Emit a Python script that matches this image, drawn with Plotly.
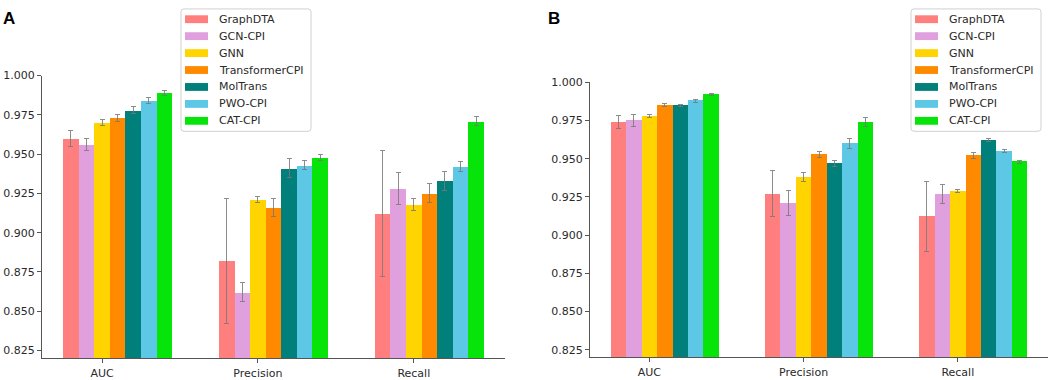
import plotly.graph_objects as go

models = ["GraphDTA", "GCN-CPI", "GNN", "TransformerCPI", "MolTrans", "PWO-CPI", "CAT-CPI"]
metrics = ["AUC", "Precision", "Recall"]
colors = ["#ff7f7f", "#dfa0dd", "#ffd400", "#ff8a00", "#007f7b", "#5cc8e6", "#06e40a"]

# Panel A values per model: [AUC, Precision, Recall]
a_vals = {
    "GraphDTA":       [0.960, 0.882, 0.912],
    "GCN-CPI":        [0.956, 0.862, 0.928],
    "GNN":            [0.970, 0.921, 0.918],
    "TransformerCPI": [0.973, 0.916, 0.925],
    "MolTrans":       [0.978, 0.941, 0.933],
    "PWO-CPI":        [0.984, 0.943, 0.942],
    "CAT-CPI":        [0.989, 0.948, 0.971],
}
a_err = {
    "GraphDTA":       [0.005, 0.040, 0.040],
    "GCN-CPI":        [0.004, 0.006, 0.010],
    "GNN":            [0.002, 0.002, 0.004],
    "TransformerCPI": [0.002, 0.006, 0.006],
    "MolTrans":       [0.002, 0.006, 0.006],
    "PWO-CPI":        [0.002, 0.003, 0.003],
    "CAT-CPI":        [0.0015, 0.002, 0.003],
}
# Panel B values per model: [AUC, Precision, Recall]
b_vals = {
    "GraphDTA":       [0.974, 0.927, 0.912],
    "GCN-CPI":        [0.975, 0.921, 0.927],
    "GNN":            [0.978, 0.938, 0.929],
    "TransformerCPI": [0.985, 0.953, 0.952],
    "MolTrans":       [0.985, 0.947, 0.962],
    "PWO-CPI":        [0.988, 0.960, 0.955],
    "CAT-CPI":        [0.992, 0.974, 0.948],
}
b_err = {
    "GraphDTA":       [0.004, 0.015, 0.023],
    "GCN-CPI":        [0.004, 0.008, 0.006],
    "GNN":            [0.001, 0.003, 0.001],
    "TransformerCPI": [0.001, 0.002, 0.002],
    "MolTrans":       [0.0005, 0.002, 0.001],
    "PWO-CPI":        [0.001, 0.003, 0.001],
    "CAT-CPI":        [0.0005, 0.003, 0.001],
}

bar_w = 0.1
W, H = 1052, 380
FONT = "DejaVu Sans, Verdana, sans-serif"
TXT = "#2a2a2a"

fig = go.Figure()

panels = [
    ("x", "y", a_vals, a_err),
    ("x2", "y2", b_vals, b_err),
]
for xa, ya, vals, errs in panels:
    for k, m in enumerate(models):
        xs = [i + (k - 2) * bar_w for i in range(len(metrics))]
        fig.add_trace(go.Bar(
            x=xs, y=vals[m], width=bar_w, marker=dict(color=colors[k], line=dict(width=0)),
            error_y=dict(type="data", array=errs[m], color="rgba(120,120,120,0.85)",
                         thickness=1, width=2.5),
            xaxis=xa, yaxis=ya, showlegend=False, name=m,
        ))


def px_x(p):
    return p / W


def px_y(p):
    return 1 - p / H


# Manual matplotlib-style legends (box, wide patches, labels)
shapes = []
annotations = []
row_h = 17.3
for box_left in (181, 911):
    box_right = box_left + 130
    top, bottom, r = 3, 128, 3
    path = (f"M{px_x(box_left + r)},{px_y(top)} L{px_x(box_right - r)},{px_y(top)} "
            f"Q{px_x(box_right)},{px_y(top)} {px_x(box_right)},{px_y(top + r)} "
            f"L{px_x(box_right)},{px_y(bottom - r)} "
            f"Q{px_x(box_right)},{px_y(bottom)} {px_x(box_right - r)},{px_y(bottom)} "
            f"L{px_x(box_left + r)},{px_y(bottom)} "
            f"Q{px_x(box_left)},{px_y(bottom)} {px_x(box_left)},{px_y(bottom - r)} "
            f"L{px_x(box_left)},{px_y(top + r)} "
            f"Q{px_x(box_left)},{px_y(top)} {px_x(box_left + r)},{px_y(top)} Z")
    shapes.append(dict(type="path", path=path, xref="paper", yref="paper",
                       line=dict(color="#d0d0d0", width=1), fillcolor="rgba(255,255,255,0.85)",
                       layer="above"))
    for k, m in enumerate(models):
        cy = 13.5 + k * row_h
        shapes.append(dict(type="rect", xref="paper", yref="paper",
                           x0=px_x(box_left + 4), x1=px_x(box_left + 27),
                           y0=px_y(cy + 4), y1=px_y(cy - 4),
                           fillcolor=colors[k], line=dict(width=0), layer="above"))
        annotations.append(dict(text=m, x=px_x(box_left + 36), y=px_y(cy), xref="paper",
                                yref="paper", xanchor="left", yanchor="middle", showarrow=False,
                                font=dict(family=FONT, size=11, color=TXT)))

annotations += [
    dict(text="<b>A</b>", x=px_x(1), y=px_y(1), xref="paper", yref="paper",
         xanchor="left", yanchor="top", showarrow=False,
         font=dict(family="Liberation Sans, Arial, sans-serif", size=17, color="black")),
    dict(text="<b>B</b>", x=px_x(546), y=px_y(1), xref="paper", yref="paper",
         xanchor="left", yanchor="top", showarrow=False,
         font=dict(family="Liberation Sans, Arial, sans-serif", size=17, color="black")),
]

axis_common = dict(
    showline=True, linecolor="#555555", linewidth=1, ticks="outside", ticklen=4,
    tickcolor="#555555", showgrid=False, zeroline=False,
    tickfont=dict(family=FONT, size=11, color=TXT),
)
xr = [-0.385, 2.585]
yr = [0.82, 1.0]
yt = [0.825, 0.850, 0.875, 0.900, 0.925, 0.950, 0.975, 1.000]

fig.update_layout(
    width=W, height=H, margin=dict(l=0, r=0, t=0, b=0),
    paper_bgcolor="white", plot_bgcolor="white",
    barmode="overlay", bargap=0, showlegend=False,
    font=dict(family=FONT, size=11, color=TXT),
    xaxis=dict(domain=[px_x(42), px_x(505)], range=xr, tickvals=[0, 1, 2], ticktext=metrics,
               anchor="y", **axis_common),
    yaxis=dict(domain=[px_y(360), px_y(71)], range=yr, tickvals=yt,
               tickformat=".3f", anchor="x", **axis_common),
    xaxis2=dict(domain=[px_x(590), px_x(1048)], range=xr, tickvals=[0, 1, 2], ticktext=metrics,
                anchor="y2", **axis_common),
    yaxis2=dict(domain=[px_y(359), px_y(78)], range=yr, tickvals=yt,
                tickformat=".3f", anchor="x2", **axis_common),
    shapes=shapes,
    annotations=annotations,
)

fig.write_html("out.html", config={"displayModeBar": False},
               post_script="document.body.style.margin='0';document.body.style.overflow='hidden';")
